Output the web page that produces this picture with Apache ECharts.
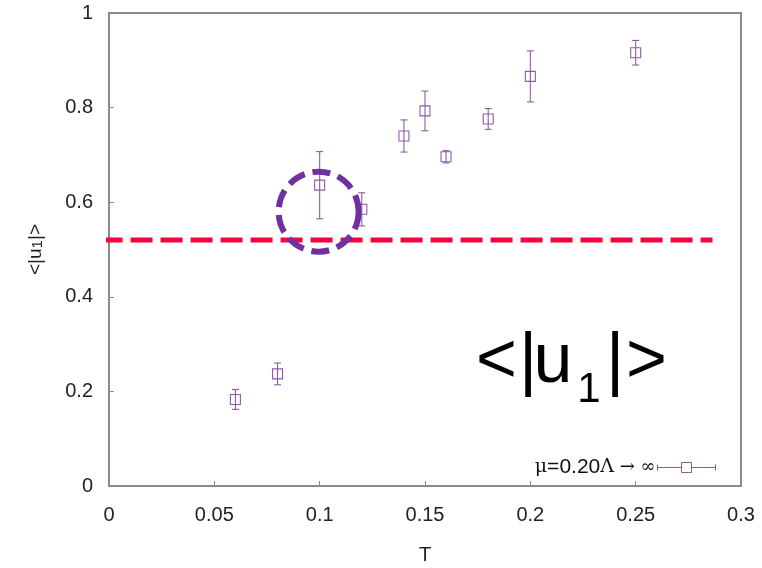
<!DOCTYPE html>
<html>
<head>
<meta charset="utf-8">
<script src="https://cdn.jsdelivr.net/npm/echarts@6/dist/echarts.min.js"></script>
<style>html,body{margin:0;padding:0;background:#fff}#c{width:762px;height:568px}</style>
</head>
<body>
<div id="c"></div>
<script>
// ---- data ----
const temps  = [0.06, 0.08, 0.10, 0.12, 0.14, 0.15, 0.16, 0.18, 0.20, 0.25];
const values = [0.183, 0.237, 0.636, 0.585, 0.740, 0.793, 0.696, 0.776, 0.866, 0.916];
const errors = [0.021, 0.023, 0.071, 0.035, 0.034, 0.042, 0.013, 0.022, 0.054, 0.026];
const thresholdValue = 0.52;
const thresholdRange = [-0.004, 0.2865];
const highlightCenter = [0.0995, 0.580];
const seriesName = 'μ=0.20Λ → ∞';

const purple = '#8f5aa8';
const chart = echarts.init(document.getElementById('c'), null, {renderer: 'canvas'});

const pointData = temps.map((t, i) => [t, values[i], errors[i]]);

function renderErr(params, api) {
  const x = api.value(0), y = api.value(1), e = api.value(2);
  const p = api.coord([x, y]);
  const t = api.coord([x, y + e]);
  const b = api.coord([x, y - e]);
  const cw = 3.5, s = 5;
  const st = {stroke: purple, lineWidth: 1.1, fill: null};
  return {
    type: 'group',
    children: [
      {type: 'line', shape: {x1: p[0], y1: t[1], x2: p[0], y2: b[1]}, style: st},
      {type: 'line', shape: {x1: p[0] - cw, y1: t[1], x2: p[0] + cw, y2: t[1]}, style: st},
      {type: 'line', shape: {x1: p[0] - cw, y1: b[1], x2: p[0] + cw, y2: b[1]}, style: st},
      {type: 'rect', shape: {x: p[0] - s, y: p[1] - s, width: 2 * s, height: 2 * s}, style: {stroke: purple, lineWidth: 1.1, fill: 'rgba(0,0,0,0)'}}
    ]
  };
}

function renderCircle(params, api) {
  const p = api.coord([api.value(0), api.value(1)]);
  return {
    type: 'circle',
    shape: {cx: p[0], cy: p[1], r: 40},
    style: {stroke: '#7030a0', lineWidth: 6, fill: 'rgba(0,0,0,0)', lineDash: [18, 8]},
    z2: 10
  };
}

const mainFs = 70, subFs = 42;
const mainMid = 387 - 0.3465 * mainFs;
const subMid = 405 - 0.3465 * subFs;
function glyph(ch, cx, cy, fs) {
  return {type: 'text', x: cx, y: cy, style: {text: ch, fontFamily: 'Liberation Sans, Arial, sans-serif', fontSize: fs, fill: '#000', align: 'center', verticalAlign: 'middle'}, z: 20};
}

chart.setOption({
  animation: false,
  backgroundColor: '#fff',
  grid: {left: 109, right: 21, top: 13, bottom: 82, outerBoundsMode: 'none', containLabel: false, show: true, borderColor: '#8a8a8a', borderWidth: 2, backgroundColor: 'rgba(0,0,0,0)'},
  xAxis: {
    type: 'value', min: 0, max: 0.3, interval: 0.05,
    name: 'T', nameLocation: 'middle', nameGap: 59,
    nameTextStyle: {fontFamily: 'Liberation Sans, Arial, sans-serif', fontSize: 20, color: '#222'},
    axisLine: {show: true, lineStyle: {color: '#8a8a8a', width: 2}},
    axisTick: {show: true, inside: true, length: 5, lineStyle: {color: '#8a8a8a'}},
    axisLabel: {margin: 19, fontFamily: 'Liberation Sans, Arial, sans-serif', fontSize: 20, color: '#222'},
    splitLine: {show: false}
  },
  yAxis: {
    type: 'value', min: 0, max: 1, interval: 0.2,
    name: '{a|<|u}{b|1}{a||>}', nameLocation: 'middle', nameGap: 64, nameRotate: 90,
    nameTextStyle: {
      color: '#222',
      rich: {
        a: {fontFamily: 'Liberation Sans, Arial, sans-serif', fontSize: 19, color: '#222'},
        b: {fontFamily: 'Liberation Sans, Arial, sans-serif', fontSize: 15, color: '#222', padding: [4, 0, 0, 0]}
      }
    },
    axisLine: {show: true, lineStyle: {color: '#8a8a8a', width: 2}},
    axisTick: {show: true, inside: true, length: 5, lineStyle: {color: '#8a8a8a'}},
    axisLabel: {margin: 16, fontFamily: 'Liberation Sans, Arial, sans-serif', fontSize: 20, color: '#222'},
    splitLine: {show: false}
  },
  legend: {
    show: true,
    right: 46, top: 457, padding: 0,
    itemWidth: 58, itemHeight: 10, itemGap: 0,
    align: 'right',
    data: [{name: seriesName, icon: 'path://M0 5L24 5M34 5L58 5M0 2L0 8M58 2L58 8M24 0L34 0L34 10L24 10Z'}],
    itemStyle: {color: 'rgba(0,0,0,0)', borderColor: purple, borderWidth: 1},
    selectedMode: false,
    formatter: function () { return '{s|μ}{a|=0.20}{s|Λ}{t| → ∞}'; },
    textStyle: {
      padding: [0, -3, 0, 0],
      rich: {
        s: {fontFamily: 'DejaVu Serif, Liberation Serif, serif', fontSize: 19, color: '#111'},
        t: {fontFamily: 'DejaVu Serif, serif', fontSize: 18, color: '#111'},
        a: {fontFamily: 'Liberation Sans, Arial, sans-serif', fontSize: 21, color: '#111'}
      }
    }
  },
  series: [
    {
      name: 'threshold', type: 'line', data: thresholdRange.map(x => [x, thresholdValue]),
      symbol: 'none', clip: false, silent: true,
      lineStyle: {color: '#f2063e', width: 5, type: [22, 8]}, z: 3
    },
    {
      name: seriesName, type: 'custom', renderItem: renderErr, data: pointData,
      encode: {x: 0, y: 1}, z: 4
    },
    {
      name: 'highlight', type: 'custom', renderItem: renderCircle, data: [highlightCenter],
      encode: {x: 0, y: 1}, clip: false, z: 5, silent: true
    }
  ],
  graphic: [
    glyph('<', 496.5, mainMid, mainFs),
    glyph('|', 528, mainMid, mainFs),
    glyph('u', 553, mainMid, mainFs),
    glyph('1', 589, subMid, subFs),
    glyph('|', 615, mainMid, mainFs),
    glyph('>', 646.5, mainMid, mainFs)
  ]
});
</script>
</body>
</html>
